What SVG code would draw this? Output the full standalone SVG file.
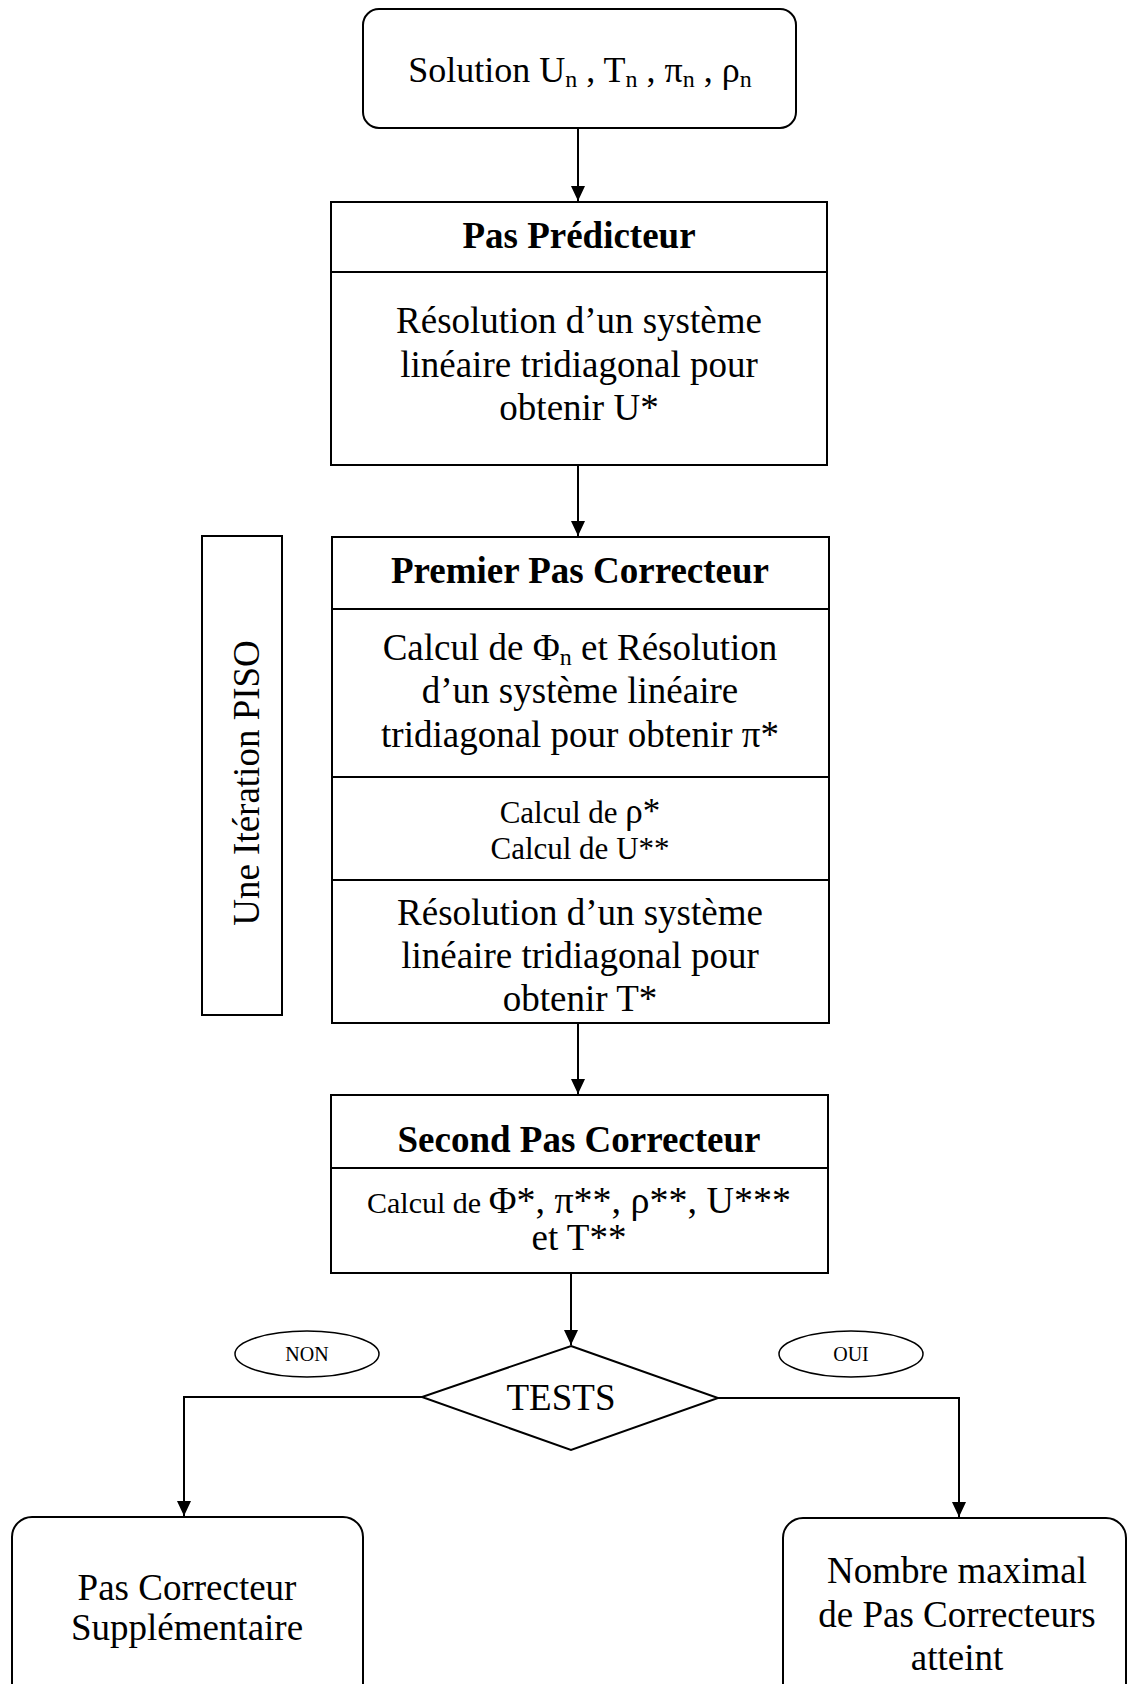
<svg xmlns="http://www.w3.org/2000/svg" width="1127" height="1684" viewBox="0 0 1127 1684">
<style>
  .box { fill: #fff; stroke: #000; stroke-width: 2; }
  .thin { fill: #fff; stroke: #000; stroke-width: 1.5; }
  .div { stroke: #000; stroke-width: 2; }
  .conn { fill: none; stroke: #000; stroke-width: 2; }
  text { font-family: "Liberation Serif", "Times New Roman", serif; fill: #000; }
  .t37 { font-size: 37px; text-anchor: middle; }
  .b37 { font-size: 37px; font-weight: bold; text-anchor: middle; }
  .t31 { font-size: 31px; text-anchor: middle; }
  .t20 { font-size: 20px; text-anchor: middle; }
  .sub { font-size: 24px; }
</style>
<defs>
  <marker id="arr" markerUnits="userSpaceOnUse" markerWidth="16" markerHeight="16" viewBox="0 0 16 16" refX="15" refY="8" orient="auto">
    <path d="M0,1 L15,8 L0,15 Z" fill="#000"/>
  </marker>
</defs>

<g id="connectors">
  <line class="conn" x1="578" y1="128" x2="578" y2="201" marker-end="url(#arr)"/>
  <line class="conn" x1="578" y1="465" x2="578" y2="536" marker-end="url(#arr)"/>
  <line class="conn" x1="578" y1="1023" x2="578" y2="1094" marker-end="url(#arr)"/>
  <line class="conn" x1="571" y1="1273" x2="571" y2="1345" marker-end="url(#arr)"/>
  <polyline class="conn" points="422,1397 184,1397 184,1516" marker-end="url(#arr)"/>
  <polyline class="conn" points="718,1398 959,1398 959,1517" marker-end="url(#arr)"/>
</g>

<g id="solution">
  <rect class="box" x="363" y="9" width="433" height="119" rx="16"/>
  <text class="t37" x="580" y="82" style="font-size:36px">Solution U<tspan class="sub" dy="5">n</tspan><tspan dy="-5"> , T</tspan><tspan class="sub" dy="5">n</tspan><tspan dy="-5"> , π</tspan><tspan class="sub" dy="5">n</tspan><tspan dy="-5"> , ρ</tspan><tspan class="sub" dy="5">n</tspan></text>
</g>

<g id="predicteur">
  <rect class="box" x="331" y="202" width="496" height="263"/>
  <line class="div" x1="331" y1="272" x2="827" y2="272"/>
  <text class="b37" x="579" y="248">Pas Prédicteur</text>
  <text class="t37" x="579" y="333">Résolution d’un système</text>
  <text class="t37" x="579" y="377">linéaire tridiagonal pour</text>
  <text class="t37" x="579" y="420">obtenir U*</text>
</g>

<g id="piso">
  <rect class="box" x="202" y="536" width="80" height="479"/>
  <text class="t37" transform="translate(247,783) rotate(-90)" x="0" y="12">Une Itération PISO</text>
</g>

<g id="premier">
  <rect class="box" x="332" y="537" width="497" height="486"/>
  <line class="div" x1="332" y1="609" x2="829" y2="609"/>
  <line class="div" x1="332" y1="777" x2="829" y2="777"/>
  <line class="div" x1="332" y1="880" x2="829" y2="880"/>
  <text class="b37" x="580" y="583">Premier Pas Correcteur</text>
  <text class="t37" x="580" y="660">Calcul de Φ<tspan class="sub" dy="5">n</tspan><tspan dy="-5"> et Résolution</tspan></text>
  <text class="t37" x="580" y="703">d’un système linéaire</text>
  <text class="t37" x="580" y="747">tridiagonal pour obtenir π*</text>
  <text class="t31" x="580" y="823">Calcul de <tspan style="font-size:35px">ρ*</tspan></text>
  <text class="t31" x="580" y="859">Calcul de U**</text>
  <text class="t37" x="580" y="925">Résolution d’un système</text>
  <text class="t37" x="580" y="968">linéaire tridiagonal pour</text>
  <text class="t37" x="580" y="1011">obtenir T*</text>
</g>

<g id="second">
  <rect class="box" x="331" y="1095" width="497" height="178"/>
  <line class="div" x1="331" y1="1168" x2="828" y2="1168"/>
  <text class="b37" x="579" y="1152">Second Pas Correcteur</text>
  <text class="t37" x="579" y="1213" style="font-size:38px"><tspan style="font-size:30px">Calcul de </tspan>Φ*, π**, ρ**, U***</text>
  <text class="t37" x="579" y="1250" style="font-size:37px">et T**</text>
</g>

<g id="tests">
  <polygon class="box" points="571,1346 718,1398 571,1450 422,1397"/>
  <text class="t37" x="561" y="1410">TESTS</text>
</g>

<g id="non">
  <ellipse class="thin" cx="307" cy="1354" rx="72" ry="23"/>
  <text class="t20" x="307" y="1361">NON</text>
</g>

<g id="oui">
  <ellipse class="thin" cx="851" cy="1354" rx="72" ry="23"/>
  <text class="t20" x="851" y="1361">OUI</text>
</g>

<g id="supplementaire">
  <rect class="box" x="12" y="1517" width="351" height="200" rx="20"/>
  <text class="t37" x="187" y="1600">Pas Correcteur</text>
  <text class="t37" x="187" y="1640">Supplémentaire</text>
</g>

<g id="maximal">
  <rect class="box" x="783" y="1518" width="343" height="200" rx="20"/>
  <text class="t37" x="957" y="1583">Nombre maximal</text>
  <text class="t37" x="957" y="1627">de Pas Correcteurs</text>
  <text class="t37" x="957" y="1670">atteint</text>
</g>
</svg>
